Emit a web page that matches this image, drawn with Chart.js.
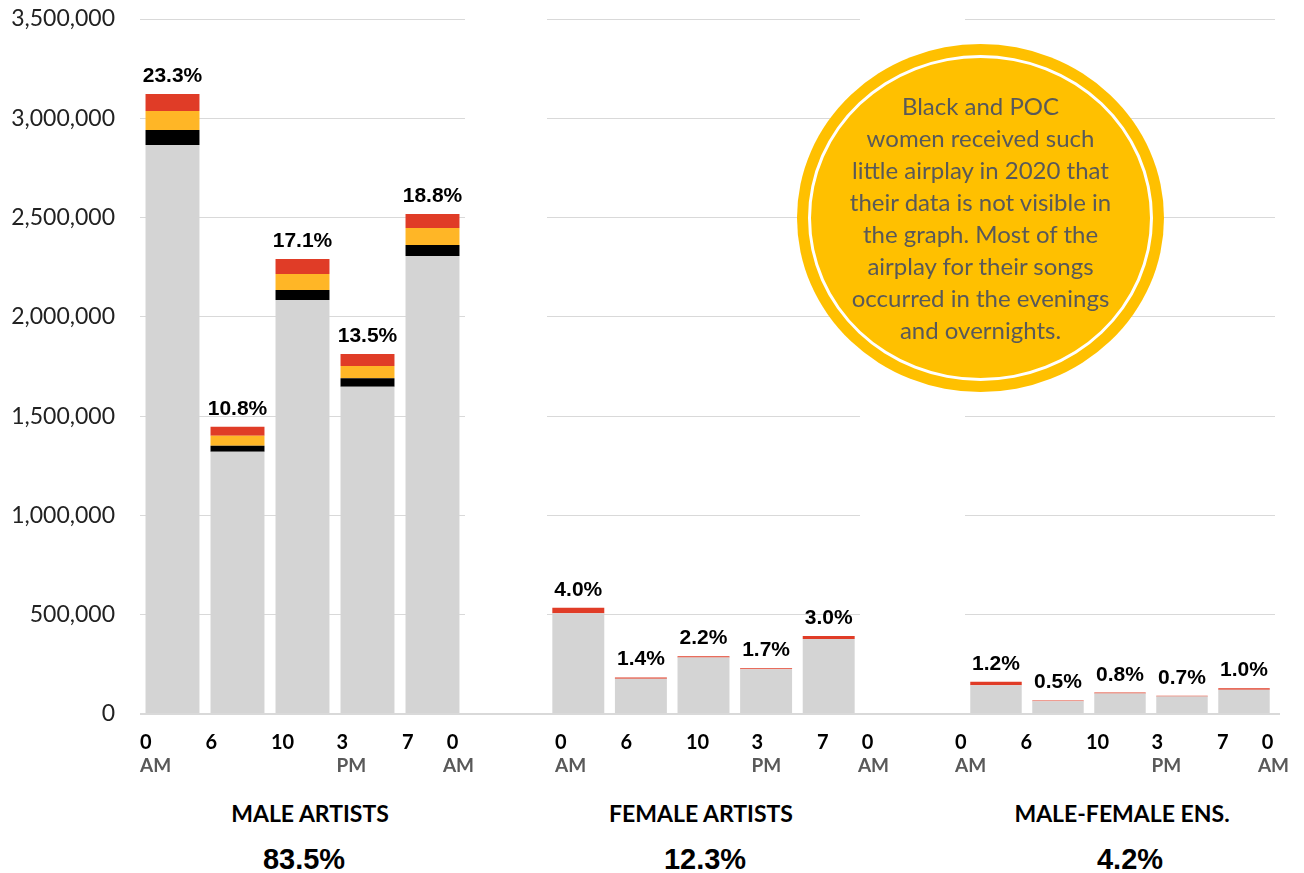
<!DOCTYPE html>
<html>
<head>
<meta charset="utf-8">
<script src="https://cdn.jsdelivr.net/npm/chart.js@4.4.1/dist/chart.umd.min.js"></script>
<style>
  body { margin: 0; background: #fff; }
  #wrap { position: relative; width: 1304px; height: 873px; overflow: hidden; font-family: Lato, sans-serif; }
  #wrap canvas { position: absolute; top: 0; }
  .name, .share { position: absolute; transform: translateX(-50%); white-space: nowrap; color: #000; line-height: 1; }
  .name { top: 799px; font: bold 23px Lato, sans-serif; }
  .share { top: 843px; font: bold 29px "Liberation Sans", Arial, sans-serif; }
  #note { position: absolute; left: 797px; top: 44px; width: 367px; height: 348px; border-radius: 50%; background: #ffc000; z-index: 2; }
  #ring { position: absolute; left: 11px; top: 11px; right: 11px; bottom: 11px; border: 3px solid #fff; border-radius: 50%; }
  #txt { position: absolute; left: 0; right: 0; top: 50%; transform: translateY(-50%); text-align: center; font: 24px/32px Lato, sans-serif; color: #595959; }
</style>
</head>
<body>
<div id="wrap">
  <canvas id="male" width="547" height="790" style="left:0"></canvas>
  <canvas id="female" width="403" height="790" style="left:547px"></canvas>
  <canvas id="ens" width="354" height="790" style="left:950px"></canvas>

  <div class="name" style="left:310px">MALE ARTISTS</div>
  <div class="name" style="left:701px">FEMALE ARTISTS</div>
  <div class="name" style="left:1122px">MALE-FEMALE ENS.</div>
  <div class="share" style="left:304px" id="s0"></div>
  <div class="share" style="left:705px" id="s1"></div>
  <div class="share" style="left:1130px" id="s2"></div>

  <div id="note"><div id="ring"></div><div id="txt">Black and POC<br>women received such<br>little airplay in 2020 that<br>their data is not visible in<br>the graph. Most of the<br>airplay for their songs<br>occurred in the evenings<br>and overnights.</div></div>
</div>

<script>
// time slots (one bar each) and the boundary labels printed under them
const timeSlots = ["0-6 AM", "6-10 AM", "10 AM-3 PM", "3-7 PM", "7 PM-0 AM"];
const slotHours = ["0", "6", "10", "3", "7", "0"];
const slotHalf = ["AM", "", "", "PM", "", "AM"];

const groupShares = ["83.5%", "12.3%", "4.2%"];

// airplay spins
const maleWhite = [2865000, 1321000, 2085000, 1648000, 2306000];
const maleBlack = [76000, 30000, 50000, 43000, 56000];
const malePoc = [96000, 50000, 81000, 62000, 85000];
const maleOther = [85000, 45000, 75000, 60000, 71000];
const malePct = ["23.3%", "10.8%", "17.1%", "13.5%", "18.8%"];

const femaleWhite = [507000, 178000, 284000, 225000, 378000];
const femaleBlack = [0, 0, 0, 0, 0];
const femalePoc = [0, 0, 0, 0, 0];
const femaleOther = [28000, 6000, 7000, 5000, 15000];
const femalePct = ["4.0%", "1.4%", "2.2%", "1.7%", "3.0%"];

const ensWhite = [145000, 64000, 103000, 88000, 122000];
const ensBlack = [0, 0, 0, 0, 0];
const ensPoc = [0, 0, 0, 0, 0];
const ensOther = [17000, 4000, 5000, 4000, 8000];
const ensPct = ["1.2%", "0.5%", "0.8%", "0.7%", "1.0%"];

const yMax = 3500000;
const yStep = 500000;

const colors = { white: "#d4d4d4", black: "#000000", poc: "#ffb626", other: "#e03c27" };

groupShares.forEach((s, i) => { document.getElementById("s" + i).textContent = s; });

const panelDecor = {
  id: "panelDecor",
  afterDatasetsDraw(chart, args, opts) {
    const { ctx, chartArea: a, scales: { x, y } } = chart;
    const y0 = y.getPixelForValue(0);
    ctx.save();

    // baseline, runs across the gap to the next panel
    ctx.strokeStyle = "#d9d9d9";
    ctx.lineWidth = 2;
    ctx.beginPath();
    ctx.moveTo(opts.fromEdge ? 0 : a.left, y0);
    ctx.lineTo(opts.baselineEnd, y0);
    ctx.stroke();

    // share labels over each stack
    const totals = timeSlots.map((_, i) =>
      chart.data.datasets.reduce((s, d) => s + d.data[i], 0));
    ctx.font = "bold 21px 'Liberation Sans', Arial, sans-serif";
    ctx.fillStyle = "#000";
    ctx.textAlign = "center";
    ctx.textBaseline = "alphabetic";
    totals.forEach((t, i) => {
      ctx.fillText(opts.pct[i], x.getPixelForValue(i), y.getPixelForValue(t) - 12);
    });

    // hour labels under the axis
    const step = 65.5;
    ctx.textBaseline = "middle";
    slotHours.forEach((h, i) => {
      const last = i === slotHours.length - 1;
      let px = a.left + opts.labelShift + i * step;
      if (last) {
        px -= 15;
        ctx.textAlign = "center";
        ctx.font = "bold 20px Lato, sans-serif";
        ctx.fillStyle = "#000";
        ctx.fillText(h, px, y0 + 29);
        ctx.font = "bold 19px Lato, sans-serif";
        ctx.fillStyle = "#595959";
        ctx.fillText(slotHalf[i], px + 6, y0 + 52);
      } else {
        ctx.textAlign = "left";
        ctx.font = "bold 20px Lato, sans-serif";
        ctx.fillStyle = "#000";
        ctx.fillText(h, px, y0 + 29);
        if (slotHalf[i]) {
          ctx.font = "bold 19px Lato, sans-serif";
          ctx.fillStyle = "#595959";
          ctx.fillText(slotHalf[i], px, y0 + 52);
        }
      }
    });
    ctx.restore();
  }
};

function makePanel(id, series, pct, opts) {
  return new Chart(document.getElementById(id), {
    type: "bar",
    data: {
      labels: timeSlots,
      datasets: [
        { label: "White", data: series[0], backgroundColor: colors.white },
        { label: "Black", data: series[1], backgroundColor: colors.black },
        { label: "POC", data: series[2], backgroundColor: colors.poc },
        { label: "Other", data: series[3], backgroundColor: colors.other },
      ],
    },
    options: {
      responsive: false,
      animation: false,
      categoryPercentage: 1,
      barPercentage: 0.83,
      layout: { padding: { top: 19, bottom: 76, right: opts.padRight, left: opts.padLeft } },
      scales: {
        x: { stacked: true, display: false },
        y: {
          stacked: true,
          min: 0,
          max: yMax,
          border: { display: false },
          grid: { color: "#d9d9d9", lineWidth: 1, drawTicks: false },
          ticks: {
            display: opts.showTicks,
            stepSize: yStep,
            padding: 25,
            color: "#222",
            font: { family: "Lato", size: 23 },
            callback: (v) => v.toLocaleString("en-US"),
          },
          afterFit: (s) => {
            s.width = opts.axisWidth;
            s.paddingTop = 0;
            s.paddingBottom = 0;
          },
        },
      },
      plugins: {
        legend: { display: false },
        tooltip: { enabled: false },
        panelDecor: { pct: pct, baselineEnd: opts.baselineEnd, labelShift: opts.labelShift, fromEdge: opts.fromEdge },
      },
    },
    plugins: [panelDecor],
  });
}

makePanel("male", [maleWhite, maleBlack, malePoc, maleOther], malePct,
  { padLeft: 0, padRight: 82, axisWidth: 140, showTicks: true, baselineEnd: 547, labelShift: 0, fromEdge: false });
makePanel("female", [femaleWhite, femaleBlack, femalePoc, femaleOther], femalePct,
  { padLeft: 0, padRight: 90, axisWidth: 0, showTicks: false, baselineEnd: 403, labelShift: 8, fromEdge: true });
makePanel("ens", [ensWhite, ensBlack, ensPoc, ensOther], ensPct,
  { padLeft: 15, padRight: 29, axisWidth: 0, showTicks: false, baselineEnd: 330, labelShift: -10, fromEdge: true });
</script>
</body>
</html>
